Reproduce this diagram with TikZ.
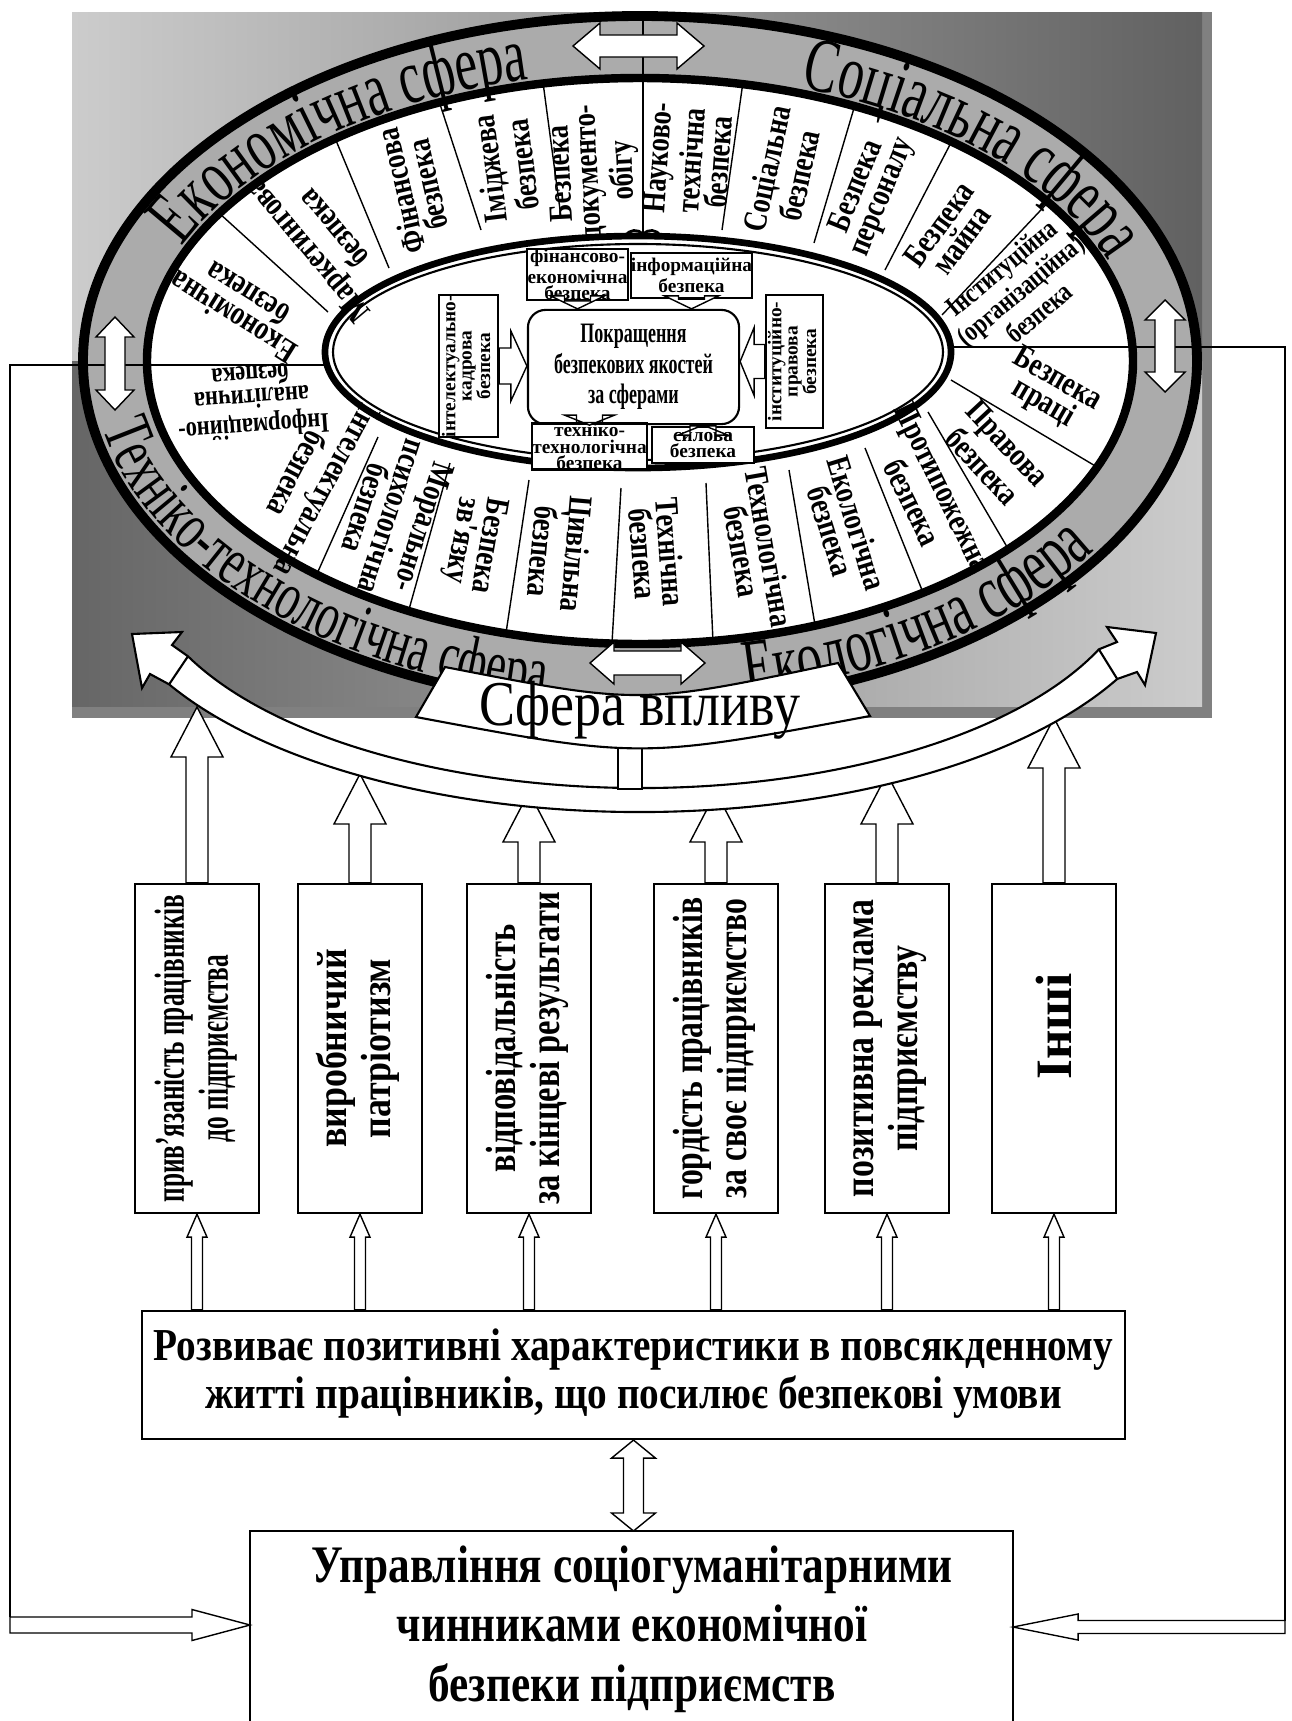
\documentclass[tikz,border=0pt]{standalone}
\usepackage{fontspec}
\setmainfont{Liberation Serif}
\newfontfamily\narrowf[FakeStretch=0.8]{Liberation Serif}
\newfontfamily\ringf[FakeStretch=0.66]{Liberation Serif}
\usepackage{graphicx}
\usetikzlibrary{calc,decorations.text}

% hollow block arrow: from, to, half body, half head, head length
\newcommand\blockarrow[5]{%
  \coordinate (ba-h) at ($(#2)!#5!(#1)$);
  \draw[fill=white] ($(#1)!#3!90:(#2)$) -- ($(ba-h)!#3!90:(#2)$) -- ($(ba-h)!#4!90:(#2)$) -- (#2)
    -- ($(ba-h)!#4!-90:(#2)$) -- ($(ba-h)!#3!-90:(#2)$) -- ($(#1)!#3!-90:(#2)$) -- cycle;}
% hollow double arrow: end, end, half body, half head, head length
\newcommand\dblarrow[5]{%
  \coordinate (da-a) at ($(#1)!#5!(#2)$);
  \coordinate (da-b) at ($(#2)!#5!(#1)$);
  \draw[fill=white] (#1) -- ($(da-a)!#4!90:(#2)$) -- ($(da-a)!#3!90:(#2)$) -- ($(da-b)!#3!90:(#2)$)
    -- ($(da-b)!#4!90:(#2)$) -- (#2) -- ($(da-b)!#4!-90:(#2)$) -- ($(da-b)!#3!-90:(#2)$)
    -- ($(da-a)!#3!-90:(#2)$) -- ($(da-a)!#4!-90:(#2)$) -- cycle;}
\newcommand\ringfont{\ringf\fontsize{22}{22}\selectfont}

\tikzset{
  seg/.style={font=\narrowf\bfseries\fontsize{9.5}{7.8}\selectfont, align=center, inner sep=0pt},
  smallseg/.style={font=\narrowf\bfseries\fontsize{8}{6.6}\selectfont, align=center, inner sep=0pt},
  tinybox/.style={draw, semithick, fill=white, align=center, inner sep=0pt,
    font=\bfseries\fontsize{5.5}{4.6}\selectfont},
  vbox/.style={draw, semithick, fill=white, minimum width=1.24cm, minimum height=3.29cm,
    inner sep=0pt, font=\bfseries\fontsize{12}{12.5}\selectfont},
  ringtext/.style={decorate, decoration={text along path, text align=center, text={#1}}},
}

\begin{document}
\begin{tikzpicture}[x=0.01cm, y=-0.01cm]
\useasboundingbox (0,0) rectangle (1292,1721);

% panel with shadow
\fill[black!50] (72,12) rectangle (1212,718);
\shade[left color=black!20, right color=black!62] (72,12) rectangle (1202,361);
\shade[left color=black!60, right color=black!20] (72,361) rectangle (1202,706);

% ring of spheres
\filldraw[fill=black!33, line width=2.8pt] (640,361) ellipse [x radius=557, y radius=345];
\filldraw[fill=white, line width=2.4pt] (640,361) ellipse [x radius=493, y radius=283];
\draw (643,12) -- (643,232);
\begin{scope}
  \clip (640,361) ellipse [x radius=493, y radius=283];
  \draw (328,312) -- (208,203);
  \draw (389,268) -- (330,126);
  \draw (481,230) -- (437,95);
  \draw (561,217) -- (542,75);
  \draw (722,230) -- (744,75);
  \draw (814,243) -- (857,98);
  \draw (885,270) -- (956,133);
  \draw (942,315) -- (1055,195);
  \draw (951,380) -- (1102,470);
  \draw (928,412) -- (1010,552);
  \draw (865,448) -- (924,595);
  \draw (789,470) -- (815,625);
  \draw (706,483) -- (713,642);
  \draw (621,488) -- (612,643);
  \draw (529,480) -- (506,633);
  \draw (450,463) -- (408,613);
  \draw (378,437) -- (316,576);
\end{scope}

% feedback lines
\draw (330,365) -- (10,365) -- (10,1617);
\draw (950,347) -- (1285,347) -- (1285,1621);

% inner ellipse
\filldraw[fill=white, line width=1.9pt] (638,352) ellipse [x radius=313, y radius=116];
\draw[semithick] (638,352) ellipse [x radius=305, y radius=108];
\draw[line width=0.8pt] (626,236) .. controls (629,229) and (638,229) .. (643,234)
  .. controls (648,229) and (657,229) .. (660,236);

% centre
\node[draw, semithick, rounded corners=5pt, minimum width=2.11cm, minimum height=0.92cm,
  font=\narrowf\bfseries\fontsize{8}{8.6}\selectfont] (core) at (633.5,367)
  {\scalebox{0.8}[1]{\begin{tabular}{@{}c@{}}Покращення\\безпекових якостей\\за сферами\end{tabular}}};
\node[tinybox, minimum width=1.01cm, minimum height=0.45cm] (fin) at (577.5,274.5)
  {фінансово-\\економічна\\безпека};
\node[tinybox, minimum width=1.05cm, minimum height=0.45cm] (inf) at (691.5,275.5)
  {інформаційна\\безпека};
\node[tinybox, minimum width=0.59cm, minimum height=1.42cm] (intel) at (468.5,366)
  {\rotatebox{90}{\begin{tabular}{@{}c@{}}інтелектуально-\\кадрова\\безпека\end{tabular}}};
\node[tinybox, minimum width=0.57cm, minimum height=1.33cm] (inst) at (794.5,361.5)
  {\rotatebox{90}{\begin{tabular}{@{}c@{}}інституційно-\\правова\\безпека\end{tabular}}};
\node[tinybox, minimum width=1.01cm, minimum height=0.37cm] (tech) at (589.5,446.5)
  {техніко-\\технологічна\\безпека};
\node[tinybox, minimum width=1.02cm, minimum height=0.36cm] (sil) at (703,445)
  {силова\\безпека};
\blockarrow{fin.south}{fin.south |- core.north}{0.13cm}{0.27cm}{0.13cm}
\blockarrow{inf.south}{inf.south |- core.north}{0.13cm}{0.27cm}{0.13cm}
\blockarrow{intel.east}{intel.east -| core.west}{0.18cm}{0.35cm}{0.16cm}
\blockarrow{inst.west}{inst.west -| core.east}{0.17cm}{0.34cm}{0.14cm}
\blockarrow{tech.north}{tech.north |- core.south}{0.13cm}{0.25cm}{0.1cm}
\blockarrow{sil.north}{sil.north |- core.south}{0.13cm}{0.25cm}{0.1cm}

% segments
\node[seg, rotate=86] (s1) at (688,160) {Науково-\\технічна\\безпека};
\node[seg, rotate=78] (s2) at (783,172) {Соціальна\\безпека};
\node[seg, rotate=68] (s3) at (870,192) {Безпека\\персоналу};
\node[seg, rotate=54] (s4) at (950,232) {Безпека\\майна};
\node[smallseg, rotate=40] (s5) at (1020,290) {Інституційна\\(організаційна)\\безпека};
\node[seg, rotate=-30] (s6) at (1050,392) {Безпека\\праці};
\node[seg, rotate=-47] (s7) at (995,455) {Правова\\безпека};
\node[seg, rotate=-64] (s8) at (928,495) {Протипожежна\\безпека};
\node[seg, rotate=-73] (s9) at (844,527) {Екологічна\\безпека};
\node[seg, rotate=-80] (s10) at (756,549) {Технологічна\\безпека};
\node[seg, rotate=-86] (s11) at (657,553) {Технічна\\безпека};
\node[seg, rotate=-95] (s12) at (560,553) {Цивільна\\безпека};
\node[seg, rotate=-100] (s13) at (474,543) {Безпека\\зв'язку};
\node[seg, rotate=-108] (s14) at (395,518) {Морально-\\психологічна\\безпека};
\node[seg, rotate=-118] (s15) at (312,482) {Інтелектуальна\\безпека};
\node[smallseg, rotate=184] (s16) at (252,402) {Інформаційно-\\аналітична\\безпека};
\node[seg, rotate=148] (s17) at (240,306) {Економічна\\безпека};
\node[seg, rotate=130] (s18) at (320,240) {Маркетингова\\безпека};
\node[seg, rotate=103] (s19) at (414,188) {Фінансова\\безпека};
\node[seg, rotate=97] (s20) at (506,167) {Іміджева\\безпека};
\node[seg, rotate=93] (s21) at (594,172) {Безпека\\документо-\\обігу};

% sphere names on the ring
\path[ringtext={|\ringfont|Економічна сфера}]
  ([shift={(640,361)}]205:499 and 289) arc[start angle=205, end angle=256, x radius=499, y radius=289];
\path[ringtext={|\ringfont|Соціальна сфера}]
  ([shift={(640,361)}]290:499 and 289) arc[start angle=290, end angle=338, x radius=499, y radius=289];
\path[ringtext={|\ringf\fontsize{19.5}{19.5}\selectfont|Техніко-технологічна сфера}]
  ([shift={(640,361)}]170:548 and 339) arc[start angle=170, end angle=99, x radius=548, y radius=339];
\path[ringtext={|\ringfont|Екологічна сфера}]
  ([shift={(640,361)}]78:548 and 339) arc[start angle=78, end angle=35, x radius=548, y radius=339];

\dblarrow{573,46}{704,46}{0.11cm}{0.23cm}{0.27cm}
\dblarrow{590,663}{705,663}{0.12cm}{0.21cm}{0.24cm}
\dblarrow{115,317}{115,410}{0.1cm}{0.19cm}{0.2cm}
\dblarrow{1165,300}{1165,392}{0.1cm}{0.2cm}{0.2cm}

% factors
\node[vbox] (b1) at (197,1048.5) {\rotatebox{90}{\scalebox{0.6}[1]{\begin{tabular}{@{}c@{}}прив'язаність працівників\\до підприємства\end{tabular}}}};
\node[vbox] (b2) at (360,1048.5) {\rotatebox{90}{\scalebox{0.85}[1]{\begin{tabular}{@{}c@{}}виробничий\\патріотизм\end{tabular}}}};
\node[vbox] (b3) at (529,1048.5) {\rotatebox{90}{\scalebox{0.77}[1]{\begin{tabular}{@{}c@{}}відповідальність\\за кінцеві результати\end{tabular}}}};
\node[vbox] (b4) at (716,1048.5) {\rotatebox{90}{\scalebox{0.75}[1]{\begin{tabular}{@{}c@{}}гордість працівників\\за своє підприємство\end{tabular}}}};
\node[vbox] (b5) at (887,1048.5) {\rotatebox{90}{\scalebox{0.8}[1]{\begin{tabular}{@{}c@{}}позитивна реклама\\підприємству\end{tabular}}}};
\node[vbox, font=\bfseries\fontsize{14.5}{14.5}\selectfont] (b6) at (1054,1048.5) {\rotatebox{90}{\hspace*{0.44cm}Інші}};

\coordinate (t1) at (197,707);
\coordinate (t2) at (360,774);
\coordinate (t3) at (529,792);
\coordinate (t4) at (716,792);
\coordinate (t5) at (887,774);
\coordinate (t6) at (1054,718);
\blockarrow{b1.north}{t1}{0.11cm}{0.26cm}{0.5cm}
\blockarrow{b2.north}{t2}{0.11cm}{0.26cm}{0.5cm}
\blockarrow{b3.north}{t3}{0.11cm}{0.26cm}{0.5cm}
\blockarrow{b4.north}{t4}{0.11cm}{0.26cm}{0.5cm}
\blockarrow{b5.north}{t5}{0.11cm}{0.26cm}{0.5cm}
\blockarrow{b6.north}{t6}{0.11cm}{0.26cm}{0.5cm}

% sphere of influence
\coordinate (ul) at ([shift={(640,558)}]154.7:500 and 230);
\coordinate (ur) at ([shift={(640,558)}]23.4:500 and 230);
\coordinate (lr) at ([shift={(640,562)}]27.9:540 and 250);
\coordinate (ll) at ([shift={(640,562)}]150.7:540 and 250);
\filldraw[fill=white, semithick] (ul) arc[start angle=154.7, end angle=23.4, x radius=500, y radius=230]
  -- (1117,642) -- (1107,627) -- (1156,633) -- (1145,685) -- (1137,672)
  -- (lr) arc[start angle=27.9, end angle=150.7, x radius=540, y radius=250]
  -- (150,674) -- (142,688) -- (132,634) -- (182,632) -- (172,645) -- cycle;
\draw[semithick] (ul) -- (ll);
\draw[semithick] (ur) -- (lr);
\filldraw[fill=white, semithick] (618,736) rectangle (642,789);
\filldraw[fill=white, semithick] (445,667) .. controls (640,705) .. (838,663) -- (870,716)
  .. controls (640,759) .. (416,717) -- cycle;
\node[anchor=base, font=\fontsize{16.5}{16.5}\selectfont, inner sep=0pt] (vplyv) at (640,725)
  {\scalebox{0.93}[1.1]{Сфера впливу}};

% development box
\node[draw, semithick, minimum width=9.81cm, minimum height=1.28cm,
  font=\bfseries\fontsize{13}{13.5}\selectfont] (dev) at (633.5,1375)
  {\scalebox{0.86}[1]{\begin{tabular}{@{}c@{}}Розвиває позитивні характеристики в повсякденному\\житті працівників, що посилює безпекові умови\end{tabular}}};
\blockarrow{b1.south |- dev.north}{b1.south}{0.055cm}{0.1cm}{0.23cm}
\blockarrow{b2.south |- dev.north}{b2.south}{0.055cm}{0.1cm}{0.23cm}
\blockarrow{b3.south |- dev.north}{b3.south}{0.055cm}{0.1cm}{0.23cm}
\blockarrow{b4.south |- dev.north}{b4.south}{0.055cm}{0.1cm}{0.23cm}
\blockarrow{b5.south |- dev.north}{b5.south}{0.055cm}{0.1cm}{0.23cm}
\blockarrow{b6.south |- dev.north}{b6.south}{0.055cm}{0.1cm}{0.23cm}

% management box
\draw[semithick] (250,1725) -- (250,1531) -- (1013,1531) -- (1013,1725);
\coordinate (mgmt-top) at (633.5,1531);
\node[font=\bfseries\fontsize{15}{17}\selectfont] (mgmt) at (632,1630)
  {\scalebox{0.82}[1]{\begin{tabular}{@{}c@{}}Управління соціогуманітарними\\чинниками економічної\\безпеки підприємств\end{tabular}}};
\dblarrow{dev.south}{mgmt-top}{0.1cm}{0.22cm}{0.18cm}
\blockarrow{10,1625}{250,1625}{0.08cm}{0.155cm}{0.58cm}
\blockarrow{1285,1627}{1013,1627}{0.065cm}{0.13cm}{0.65cm}
\end{tikzpicture}
\end{document}
